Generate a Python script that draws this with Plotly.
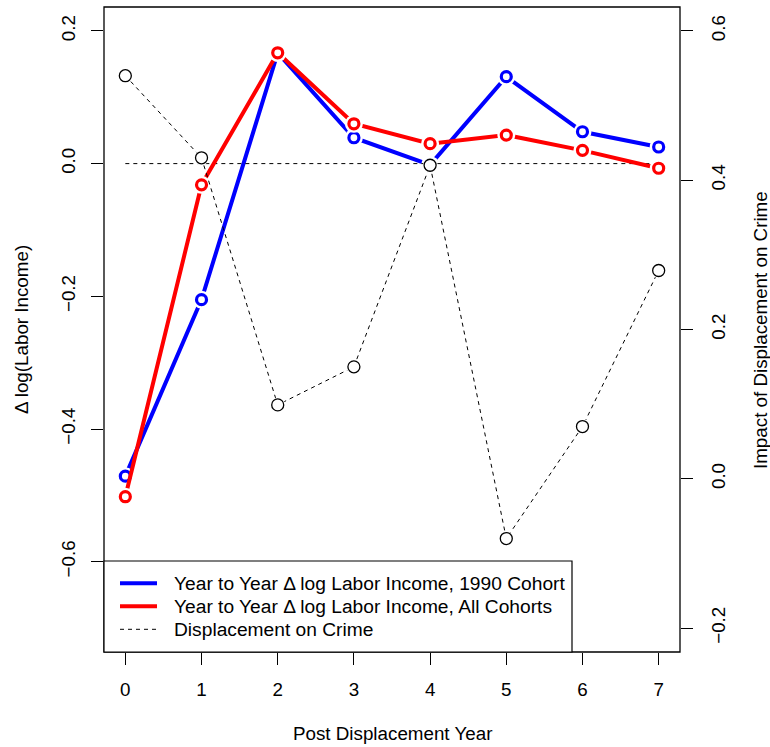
import plotly.graph_objects as go

# ---- data ----
years = [0, 1, 2, 3, 4, 5, 6, 7]
income_1990 = [-0.471, -0.205, 0.167, 0.039, -0.002, 0.131, 0.048, 0.025]
income_all = [-0.502, -0.032, 0.167, 0.060, 0.030, 0.043, 0.020, -0.007]
crime_impact = [0.540, 0.430, 0.099, 0.150, 0.420, -0.080, 0.070, 0.279]
zero_line_y = [0.0, 0.0]

left_ticks = [-0.6, -0.4, -0.2, 0.0, 0.2]
left_labels = ["\u22120.6", "\u22120.4", "\u22120.2", "0.0", "0.2"]
right_ticks = [-0.2, 0.0, 0.2, 0.4, 0.6]
right_labels = ["\u22120.2", "0.0", "0.2", "0.4", "0.6"]

legend_labels = [
    "Year to Year \u0394 log Labor Income, 1990 Cohort",
    "Year to Year \u0394 log Labor Income, All Cohorts",
    "Displacement on Crime",
]

BLUE = "#0000FF"
RED = "#FF0000"
FONT = dict(family="Liberation Sans, Arial, Helvetica, sans-serif", size=18.8, color="black")
LEG_FONT = dict(family="Liberation Sans, Arial, Helvetica, sans-serif", size=19.2, color="black")

# plot area in pixels
L, R, T, B = 104, 680, 7, 652
W, H = 770, 747
def px(x):
    return (x - L) / (R - L)
def py(y):
    return (B - y) / (B - T)

fig = go.Figure()

# crime line (drawn first, halo erases it near points)
fig.add_trace(go.Scatter(x=years, y=crime_impact, yaxis="y2", mode="lines",
                         line=dict(color="black", width=1, dash="4px,4px"),
                         showlegend=False, hoverinfo="skip"))
fig.add_trace(go.Scatter(x=years, y=crime_impact, yaxis="y2", mode="markers",
                         marker=dict(symbol="circle", size=15, color="white", line=dict(width=0)),
                         showlegend=False, hoverinfo="skip"))

# 1990 cohort
fig.add_trace(go.Scatter(x=years, y=income_1990, mode="lines",
                         line=dict(color=BLUE, width=4), showlegend=False))
fig.add_trace(go.Scatter(x=years, y=income_1990, mode="markers",
                         marker=dict(symbol="circle", size=18, color="white", line=dict(width=0)),
                         showlegend=False, hoverinfo="skip"))
fig.add_trace(go.Scatter(x=years, y=income_1990, mode="markers",
                         marker=dict(symbol="circle-open", size=10, color=BLUE, line=dict(width=3.2, color=BLUE)),
                         showlegend=False))

# reference zero line
fig.add_trace(go.Scatter(x=[years[0], years[-1]], y=zero_line_y, mode="lines",
                         line=dict(color="black", width=1, dash="4px,4px"),
                         showlegend=False, hoverinfo="skip"))

# all cohorts
fig.add_trace(go.Scatter(x=years, y=income_all, mode="lines",
                         line=dict(color=RED, width=4), showlegend=False))
fig.add_trace(go.Scatter(x=years, y=income_all, mode="markers",
                         marker=dict(symbol="circle", size=18, color="white", line=dict(width=0)),
                         showlegend=False, hoverinfo="skip"))
fig.add_trace(go.Scatter(x=years, y=income_all, mode="markers",
                         marker=dict(symbol="circle-open", size=10, color=RED, line=dict(width=3.2, color=RED)),
                         showlegend=False))

# crime markers on top
fig.add_trace(go.Scatter(x=years, y=crime_impact, yaxis="y2", mode="markers",
                         marker=dict(symbol="circle-open", size=12, color="black", line=dict(width=1.3, color="black")),
                         showlegend=False))

axis_common = dict(ticks="outside", ticklen=12, tickwidth=1, tickcolor="black",
                   showgrid=False, zeroline=False, showline=False, tickfont=FONT)

fig.update_layout(
    width=W, height=H,
    margin=dict(l=L, r=W - R, t=T, b=H - B, pad=0),
    paper_bgcolor="white", plot_bgcolor="white",
    font=FONT,
    xaxis=dict(range=[-0.28, 7.28], tickvals=years, ticktext=[str(v) for v in years],
               ticklabelstandoff=8, **axis_common),
    yaxis=dict(range=[-0.736, 0.236], tickvals=left_ticks, ticktext=left_labels,
               tickangle=-90, ticklabelstandoff=8, **axis_common),
    yaxis2=dict(range=[-0.232, 0.632], tickvals=right_ticks, ticktext=right_labels,
                overlaying="y", side="right", tickangle=-90, ticklabelstandoff=9, **axis_common),
    showlegend=False,
)

shapes = [
    dict(type="rect", xref="paper", yref="paper", x0=0, x1=1, y0=0, y1=1,
         line=dict(color="black", width=1.3), layer="above"),
    dict(type="rect", xref="paper", yref="paper", x0=0, x1=px(572), y0=0, y1=py(561),
         line=dict(color="black", width=1.2), fillcolor="white", layer="above"),
]
sample_styles = [dict(color=BLUE, width=4), dict(color=RED, width=4),
                 dict(color="black", width=1, dash="4px,4px")]
row_y = [583.3, 606.3, 629.3]
for yy, st in zip(row_y, sample_styles):
    shapes.append(dict(type="line", xref="paper", yref="paper", x0=px(120), x1=px(157),
                       y0=py(yy), y1=py(yy), line=st, layer="above"))
fig.update_layout(shapes=shapes)

annotations = []
for yy, lab in zip(row_y, legend_labels):
    annotations.append(dict(text=lab, xref="paper", yref="paper", x=px(172), y=py(yy + 0.5),
                            xanchor="left", yanchor="middle", showarrow=False, font=LEG_FONT))
annotations.append(dict(text="Post Displacement Year", xref="paper", yref="paper",
                        x=px(392), y=py(733), xanchor="center", yanchor="middle",
                        showarrow=False, font=FONT))
annotations.append(dict(text="\u0394 log(Labor Income)", xref="paper", yref="paper",
                        x=px(21), y=py(330), xanchor="center", yanchor="middle",
                        textangle=-90, showarrow=False, font=FONT))
annotations.append(dict(text="Impact of Displacement on Crime", xref="paper", yref="paper",
                        x=px(760), y=py(330), xanchor="center", yanchor="middle",
                        textangle=-90, showarrow=False, font=FONT))
fig.update_layout(annotations=annotations)

fig.write_html("out.html")
